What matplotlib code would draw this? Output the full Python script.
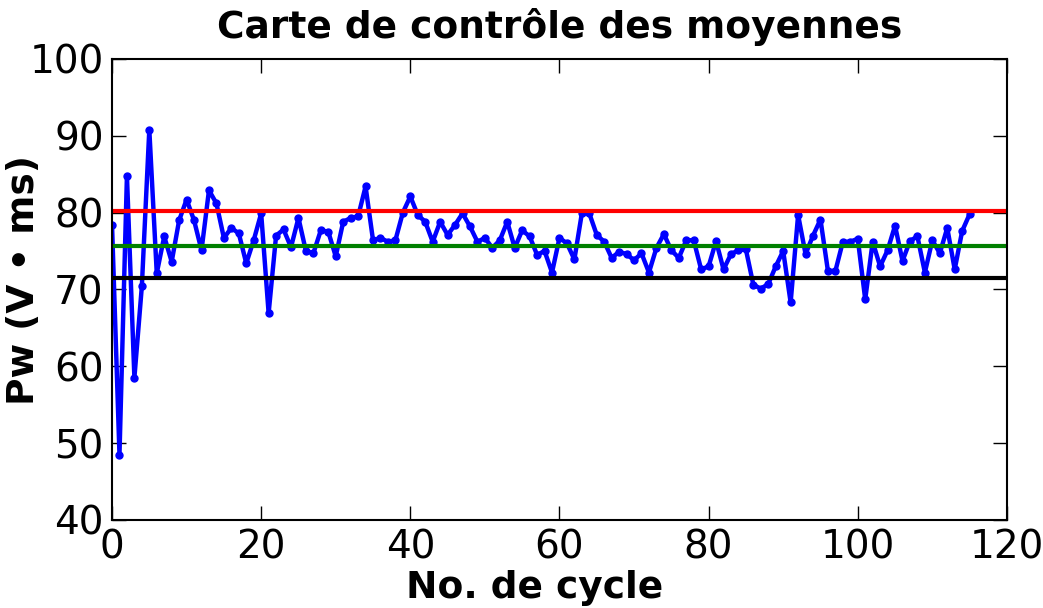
import matplotlib
matplotlib.use("Agg")
import matplotlib.pyplot as plt
import numpy as np

# Mean value of Pw for each cycle
pw = [78.4, 48.5, 84.8, 58.5, 70.4, 90.8, 72.1, 76.9, 73.6, 79.0,
      81.7, 79.0, 75.1, 82.9, 81.2, 76.7, 78.0, 77.3, 73.4, 76.4,
      79.9, 66.9, 77.0, 77.8, 75.5, 79.3, 75.0, 74.7, 77.7, 77.5,
      74.3, 78.8, 79.3, 79.5, 83.4, 76.4, 76.7, 76.2, 76.4, 80.0,
      82.1, 79.7, 78.8, 76.2, 78.8, 77.1, 78.4, 79.9, 78.2, 76.2,
      76.7, 75.4, 76.4, 78.8, 75.4, 77.7, 76.9, 74.5, 75.0, 72.2,
      76.7, 76.0, 73.9, 79.9, 79.9, 77.1, 76.2, 74.1, 74.9, 74.6,
      73.8, 74.7, 72.2, 75.4, 77.2, 75.1, 74.1, 76.4, 76.4, 72.6,
      73.0, 76.3, 72.6, 74.6, 75.1, 75.2, 70.6, 70.1, 70.7, 73.0,
      75.0, 68.3, 79.7, 74.6, 77.0, 79.1, 72.4, 72.4, 76.2, 76.2,
      76.6, 68.7, 76.2, 73.0, 75.1, 78.3, 73.7, 76.3, 76.9, 72.2,
      76.4, 74.7, 78.0, 72.6, 77.6, 79.8]
cycles = np.arange(len(pw))

# control limits
ucl = 80.2
center = 75.7
lcl = 71.5

fig = plt.figure(figsize=(10.43, 6.08), dpi=100)
ax = fig.add_axes([0.1074, 0.145, 0.858, 0.758])

ax.plot(cycles, pw, color='b', linewidth=3.2, marker='.', markersize=10)
ax.axhline(ucl, color='r', linewidth=3)
ax.axhline(center, color='g', linewidth=3)
ax.axhline(lcl, color='k', linewidth=3)

ax.set_xlim(0, 120)
ax.set_ylim(40, 100)
ax.set_xticks(range(0, 121, 20))
ax.set_yticks(range(40, 101, 10))
ax.tick_params(direction='in', length=10, width=1, top=True, right=True,
               labelsize=28, pad=6)
for s in ax.spines.values():
    s.set_linewidth(1.5)

ax.set_title('Carte de contrôle des moyennes', fontsize=27, fontweight='bold', pad=15)
ax.set_xlabel('No. de cycle', fontsize=27, fontweight='bold')
ax.set_ylabel('Pw (V • ms)', fontsize=27, fontweight='bold')
ax.xaxis.set_label_coords(0.472, -0.108)
ax.yaxis.set_label_coords(-0.078, 0.52)

fig.savefig('out.png', dpi=100, facecolor='white')
